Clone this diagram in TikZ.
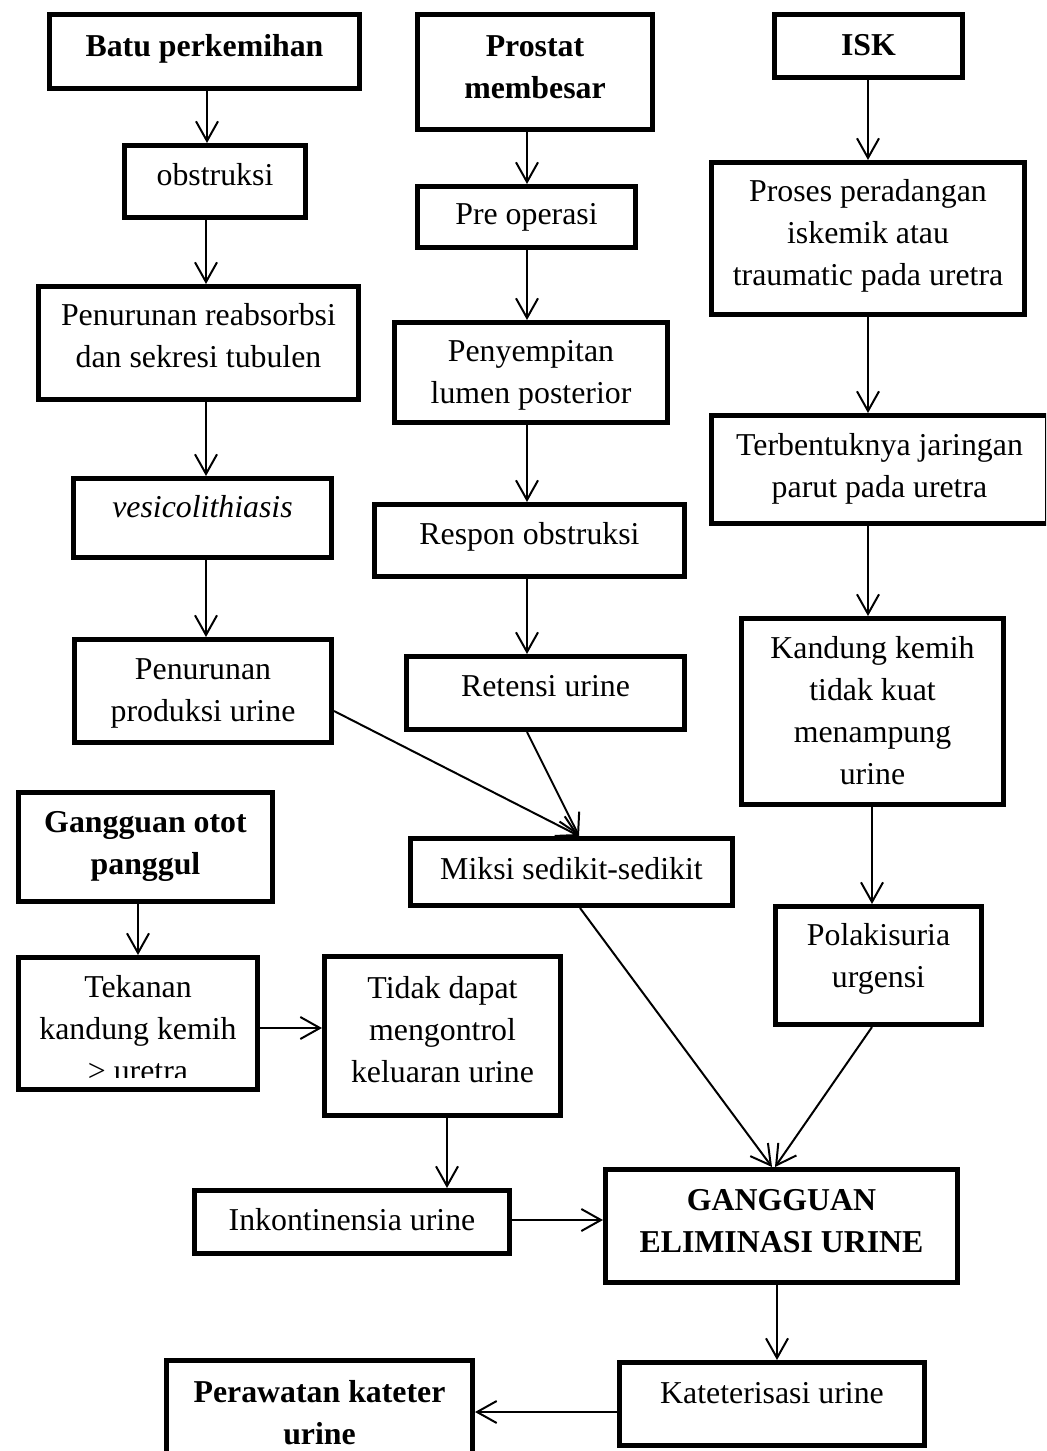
\documentclass[tikz,border=0pt]{standalone}
\usepackage{fontspec}
\setmainfont{Liberation Serif}
\usetikzlibrary{arrows.meta}
\newcommand{\brk}{\\\strut}
\newcommand{\mybox}[5]{\node[boxst, minimum width={(#4-#2-5)*0.377pt}, minimum height={(#5-#3-5)*0.377pt}] (#1) at ({(#2+#4)/2},{(#3+#5)/2}) {};}
\begin{document}
\begin{tikzpicture}[x=0.377pt, y=-0.377pt,
  boxst/.style={draw=black, line width=1.9pt, inner sep=0pt, outer sep=0.95pt},
  txt/.style={inner sep=0pt, align=center, font=\fontsize{12}{15.8}\selectfont, execute at begin node=\strut},
  btxt/.style={txt, font=\fontsize{12}{15.8}\selectfont\bfseries},
  arr/.style={line width=0.75pt, -{Straight Barb[length=7.4pt,width=8.3pt]}}]
\useasboundingbox (0,0) rectangle (1046,1451);
\clip (0,0) rectangle (1046,1451);

% boxes
\mybox{batu}{47}{12}{362}{91}
\mybox{obs}{122}{143}{308}{220}
\mybox{peni}{36}{284}{361}{402}
\mybox{ves}{71}{476}{334}{560}
\mybox{penii}{72}{637}{334}{745}
\mybox{pros}{415}{12}{655}{132}
\mybox{pre}{415}{184}{638}{250}
\mybox{peny}{392}{320}{670}{425}
\mybox{resp}{372}{502}{687}{579}
\mybox{ret}{404}{654}{687}{732}
\mybox{miksi}{408}{836}{735}{908}
\mybox{isk}{772}{12}{965}{80}
\mybox{proc}{709}{160}{1027}{317}
\mybox{terb}{709}{413}{1050}{526}
\mybox{kand}{739}{616}{1006}{807}
\mybox{pola}{773}{904}{984}{1027}
\mybox{otot}{16}{790}{275}{904}
\mybox{tek}{16}{955}{260}{1092}
\mybox{tidak}{322}{954}{563}{1118}
\mybox{ink}{192}{1188}{512}{1256}
\mybox{gel}{603}{1167}{960}{1285}
\mybox{kat}{617}{1360}{927}{1448}
\mybox{per}{164}{1358}{475}{1475}

% texts
\node[btxt] (batu-t) at (batu.center |- 0,48) {Batu perkemihan};
\node[txt] (obs-t) at (obs.center |- 0,177) {obstruksi};
\node[txt] (peni-t) at (peni.center |- 0,342) {Penurunan reabsorbsi\brk dan sekresi tubulen};
\node[txt] (ves-t) at (ves.center |- 0,509) {\itshape vesicolithiasis};
\node[txt] (penii-t) at (penii.center |- 0,696) {Penurunan\brk produksi urine};
\node[btxt] (pros-t) at (pros.center |- 0,73) {Prostat\brk membesar};
\node[txt] (pre-t) at (pre.center |- 0,216) {Pre operasi};
\node[txt] (peny-t) at (peny.center |- 0,378) {Penyempitan\brk lumen posterior};
\node[txt] (resp-t) at (resp.center |- 0,536) {Respon obstruksi};
\node[txt] (ret-t) at (ret.center |- 0,688) {Retensi urine};
\node[txt] (miksi-t) at (miksi.center |- 0,871) {Miksi sedikit-sedikit};
\node[btxt] (isk-t) at (isk.center |- 0,47) {ISK};
\node[txt] (proc-t) at (proc.center |- 0,239) {Proses peradangan\brk iskemik atau\brk traumatic pada uretra};
\node[txt] (terb-t) at (terb.center |- 0,472) {Terbentuknya jaringan\brk parut pada uretra};
\node[txt] (kand-t) at (kand.center |- 0,717) {Kandung kemih\brk tidak kuat\brk menampung\brk urine};
\node[txt] (pola-t) at (pola.center |- 0,962) {Polakisuria\brk urgensi};
\node[btxt] (otot-t) at (otot.center |- 0,849) {Gangguan otot\brk panggul};
\begin{scope}
  \clip (16,955) rectangle (260,1077);
  \node[txt] (tek-t) at (tek.center |- 0,1035) {Tekanan\brk kandung kemih\brk > uretra};
\end{scope}
\node[txt] (tidak-t) at (tidak.center |- 0,1036) {Tidak dapat\brk mengontrol\brk keluaran urine};
\node[txt] (ink-t) at (ink.center |- 0,1222) {Inkontinensia urine};
\node[btxt] (gel-t) at (gel.center |- 0,1227) {GANGGUAN\brk ELIMINASI URINE};
\node[txt] (kat-t) at (kat.center |- 0,1395) {Kateterisasi urine};
\node[btxt] (per-t) at (per.center |- 0,1419) {Perawatan kateter\brk urine};

% connectors
\draw[arr] (batu.south -| 207,0) -- (obs.north -| 207,0);
\draw[arr] (obs.south -| 206,0) -- (peni.north -| 206,0);
\draw[arr] (peni.south -| 206,0) -- (ves.north -| 206,0);
\draw[arr] (ves.south -| 206,0) -- (penii.north -| 206,0);
\draw[arr] (pros.south -| 527,0) -- (pre.north -| 527,0);
\draw[arr] (pre.south -| 527,0) -- (peny.north -| 527,0);
\draw[arr] (peny.south -| 527,0) -- (resp.north -| 527,0);
\draw[arr] (resp.south -| 527,0) -- (ret.north -| 527,0);
\draw[arr] (ret.south -| 527,0) -- (miksi.north -| 579,0);
\draw[arr] (penii.east |- 0,711) -- (miksi.north -| 579,0);
\draw[arr] (isk.south -| 868,0) -- (proc.north -| 868,0);
\draw[arr] (proc.south -| 868,0) -- (terb.north -| 868,0);
\draw[arr] (terb.south -| 868,0) -- (kand.north -| 868,0);
\draw[arr] (kand.south -| 872,0) -- (pola.north -| 872,0);
\draw[arr] (miksi.south -| 580,0) -- (gel.north -| 772,0);
\draw[arr] (pola.south -| 872,0) -- (gel.north -| 775,0);
\draw[arr] (otot.south -| 138,0) -- (tek.north -| 138,0);
\draw[arr] (tek.east |- 0,1028) -- (tidak.west |- 0,1028);
\draw[arr] (tidak.south -| 447,0) -- (ink.north -| 447,0);
\draw[arr] (ink.east |- 0,1220) -- (gel.west |- 0,1220);
\draw[arr] (gel.south -| 777,0) -- (kat.north -| 777,0);
\draw[arr] (kat.west |- 0,1412) -- (per.east |- 0,1412);
\end{tikzpicture}
\end{document}
